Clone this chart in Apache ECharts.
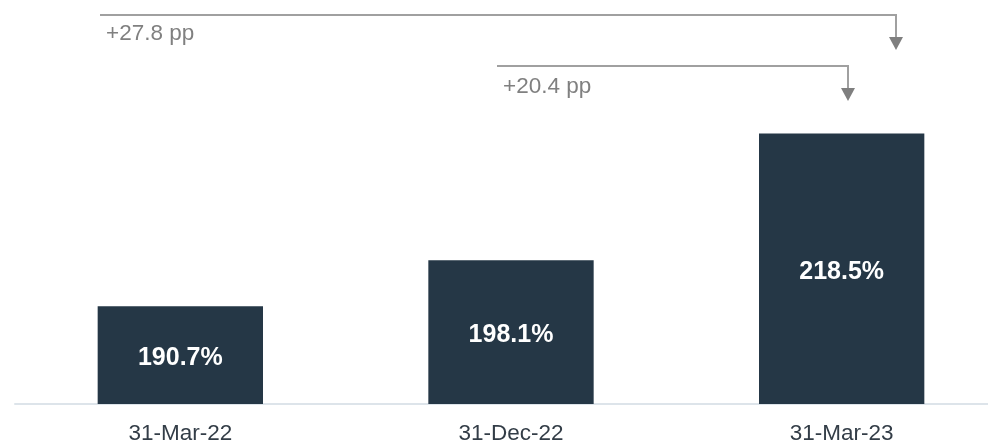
<!DOCTYPE html>
<html>
<head>
<meta charset="utf-8">
<script src="https://cdn.jsdelivr.net/npm/echarts@6/dist/echarts.min.js"></script>
<style>
  html, body { margin: 0; padding: 0; background: #fff; overflow: hidden; }
  #chart { width: 988px; height: 442px; }
</style>
</head>
<body>
<div id="chart"></div>
<script>
var categories = ['31-Mar-22', '31-Dec-22', '31-Mar-23'];
var ratioValues = [190.7, 198.1, 218.5];
var changeLabels = ['+27.8 pp', '+20.4 pp'];

var myChart = echarts.init(document.getElementById('chart'));

var grey = '#a0a0a0';
var arrowGrey = '#7f7f7f';

var option = {
    animation: false,
    grid: { left: 15, right: -19, top: 14, bottom: 38, outerBoundsMode: 'none', containLabel: false },
    xAxis: {
        type: 'category',
        data: categories,
        axisTick: { show: false },
        axisLine: { lineStyle: { color: '#dde4ea', width: 2 } },
        axisLabel: {
            color: '#333d47',
            fontFamily: 'Liberation Sans, Arial',
            fontSize: 22.5,
            margin: 18
        }
    },
    yAxis: {
        type: 'value',
        min: 175,
        max: 237.7,
        show: false,
        splitLine: { show: false }
    },
    series: [{
        type: 'bar',
        data: ratioValues,
        barWidth: '50%',
        itemStyle: { color: '#253746' },
        label: {
            show: true,
            position: 'inside',
            offset: [0, 3],
            color: '#fff',
            fontWeight: 'bold',
            fontFamily: 'Liberation Sans, Arial',
            fontSize: 25,
            formatter: function (p) { return p.value.toFixed(1) + '%'; }
        }
    }],
    graphic: [
        // bracket from 31-Mar-22 to 31-Mar-23
        { type: 'polyline', shape: { points: [[100, 15], [896, 15], [896, 38]] },
          style: { stroke: grey, lineWidth: 2, fill: null } },
        { type: 'polygon', shape: { points: [[889, 37], [903, 37], [896, 50]] },
          style: { fill: arrowGrey } },
        { type: 'text', left: 106, top: 22,
          style: { text: changeLabels[0], fill: '#808080', fontSize: 22.5, fontFamily: 'Liberation Sans, Arial' } },
        // bracket from 31-Dec-22 to 31-Mar-23
        { type: 'polyline', shape: { points: [[497, 66], [848, 66], [848, 89]] },
          style: { stroke: grey, lineWidth: 2, fill: null } },
        { type: 'polygon', shape: { points: [[841, 88], [855, 88], [848, 101]] },
          style: { fill: arrowGrey } },
        { type: 'text', left: 503, top: 75,
          style: { text: changeLabels[1], fill: '#808080', fontSize: 22.5, fontFamily: 'Liberation Sans, Arial' } }
    ]
};

myChart.setOption(option);
window.addEventListener('resize', function () {
    myChart.resize();
});
</script>
</body>
</html>
